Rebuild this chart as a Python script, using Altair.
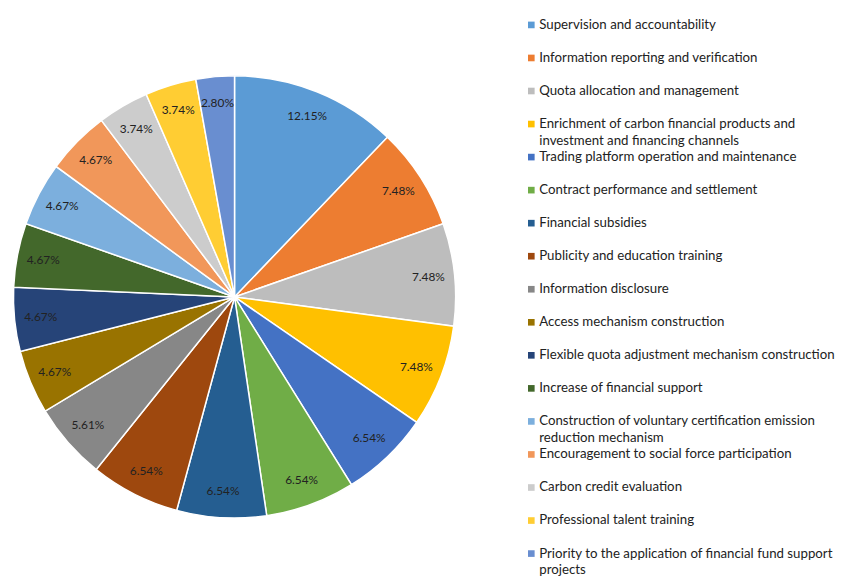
import altair as alt
import pandas as pd

categories = [
    "Supervision and accountability",
    "Information reporting and verification",
    "Quota allocation and management",
    "Enrichment of carbon financial products and\ninvestment and financing channels",
    "Trading platform operation and maintenance",
    "Contract performance and settlement",
    "Financial subsidies",
    "Publicity and education training",
    "Information disclosure",
    "Access mechanism construction",
    "Flexible quota adjustment mechanism construction",
    "Increase of financial support",
    "Construction of voluntary certification emission\nreduction mechanism",
    "Encouragement to social force participation",
    "Carbon credit evaluation",
    "Professional talent training",
    "Priority to the application of financial fund support\nprojects",
]
values = [12.15, 7.48, 7.48, 7.48, 6.54, 6.54, 6.54, 6.54, 5.61,
          4.67, 4.67, 4.67, 4.67, 4.67, 3.74, 3.74, 2.80]
colors = ["#5B9BD5", "#ED7D31", "#BDBDBD", "#FFC000", "#4472C4", "#70AD47",
          "#255E91", "#9E480E", "#878787", "#997300", "#264478", "#43682B",
          "#7CAFDD", "#F1975A", "#CCCCCC", "#FFCD33", "#698ED0"]

df = pd.DataFrame({
    "cat": categories,
    "value": values,
    "idx": list(range(len(categories))),
    "label": [f"{v:.2f}%" for v in values],
})

color_scale = alt.Scale(domain=categories, range=colors)

base = alt.Chart(df).encode(
    theta=alt.Theta("value:Q", stack=True),
    order=alt.Order("idx:Q", sort="ascending"),
)

arcs = base.mark_arc(outerRadius=223.5, stroke="white", strokeWidth=1.5).encode(
    color=alt.Color("cat:N", scale=color_scale, legend=None),
    x=alt.value(229), y=alt.value(289),
)
labels = base.mark_text(radius=197, font="Lato", fontSize=12, color="#222222").encode(
    text="label:N",
    x=alt.value(229), y=alt.value(289),
)
pie = alt.layer(arcs, labels).properties(width=521, height=561)

# legend built from the same lists
rows = []
for i, c in enumerate(categories):
    for j, line in enumerate(c.split("\n")):
        rows.append({"cat": c, "line": line, "pos": i + j * 17 / 33.4})
ldf = pd.DataFrame(rows)

top_px, step_px = 14.0, 33.4
yscale = alt.Scale(domain=[-top_px / step_px, (561 - top_px) / step_px], reverse=True)

sq = alt.Chart(df).mark_square(size=45, opacity=1).encode(
    x=alt.value(8),
    y=alt.Y("idx:Q", scale=yscale, axis=None),
    color=alt.Color("cat:N", scale=color_scale, legend=None),
)
txt = alt.Chart(ldf).mark_text(align="left", baseline="middle", font="Lato",
                               fontSize=13.4, color="#222222").encode(
    x=alt.value(16),
    y=alt.Y("pos:Q", scale=yscale, axis=None),
    text="line:N",
)
legend = alt.layer(sq, txt).properties(width=300, height=561)

chart = alt.hconcat(pie, legend, spacing=0).properties(
    padding=0, background="white"
).configure_view(stroke=None)

chart.save("out.html", embed_options={"renderer": "svg", "actions": False})
